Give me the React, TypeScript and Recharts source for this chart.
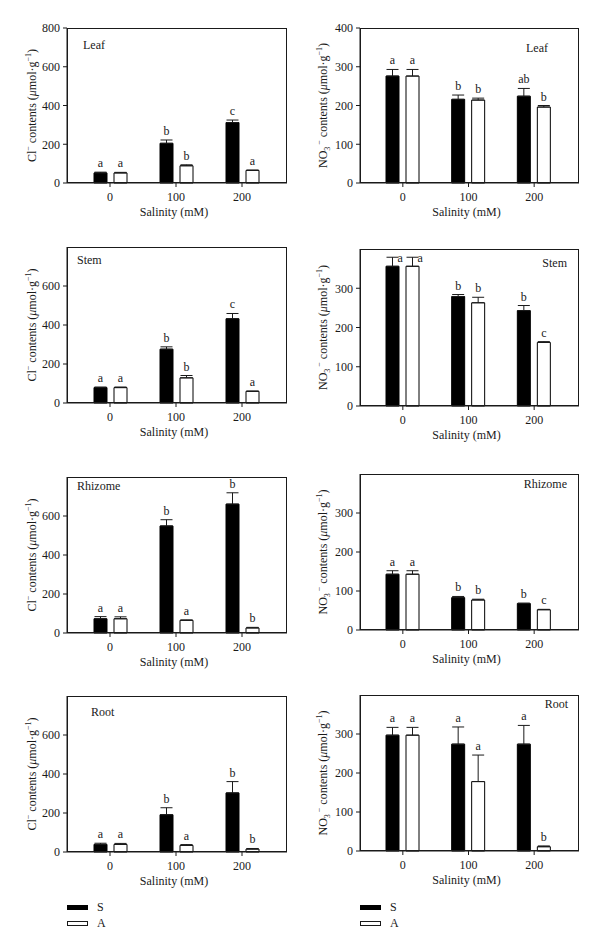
import { Bar, BarChart, ErrorBar, LabelList, XAxis, YAxis } from "recharts";

const salinity = ["0", "100", "200"];

const clTicksLeaf = [0, 200, 400, 600, 800];
const clTicks = [0, 200, 400, 600];
const noTicksLeaf = [0, 100, 200, 300, 400];
const noTicks = [0, 100, 200, 300];

// Cl- contents, left column
const clLeafS = [52, 205, 312];
const clLeafSErr = [4, 17, 13];
const clLeafA = [52, 89, 65];
const clLeafAErr = [3, 5, 2];
const clLeafSTag = ["a", "b", "c"];
const clLeafATag = ["a", "b", "a"];

const clStemS = [79, 276, 432];
const clStemSErr = [3, 12, 27];
const clStemA = [79, 129, 60];
const clStemAErr = [3, 12, 1];
const clStemSTag = ["a", "b", "c"];
const clStemATag = ["a", "b", "a"];

const clRhizS = [73, 549, 661];
const clRhizSErr = [11, 32, 58];
const clRhizA = [73, 65, 26];
const clRhizAErr = [10, 2, 3];
const clRhizSTag = ["a", "b", "b"];
const clRhizATag = ["a", "a", "b"];

const clRootS = [39, 191, 303];
const clRootSErr = [6, 36, 58];
const clRootA = [39, 34, 15];
const clRootAErr = [5, 4, 3];
const clRootSTag = ["a", "b", "b"];
const clRootATag = ["a", "a", "b"];

// NO3- contents, right column
const noLeafS = [276, 216, 224];
const noLeafSErr = [17, 11, 20];
const noLeafA = [276, 214, 196];
const noLeafAErr = [17, 5, 4];
const noLeafSTag = ["a", "b", "ab"];
const noLeafATag = ["a", "b", "b"];

const noStemS = [356, 279, 243];
const noStemSErr = [23, 5, 13];
const noStemA = [356, 263, 162];
const noStemAErr = [23, 14, 2];
const noStemSTag = ["a", "b", "b"];
const noStemATag = ["a", "b", "c"];

const noRhizS = [143, 83, 68];
const noRhizSErr = [9, 3, 1];
const noRhizA = [143, 77, 52];
const noRhizAErr = [9, 2, 1];
const noRhizSTag = ["a", "b", "b"];
const noRhizATag = ["a", "b", "c"];

const noRootS = [297, 274, 274];
const noRootSErr = [20, 44, 48];
const noRootA = [297, 178, 11];
const noRootAErr = [20, 68, 2];
const noRootSTag = ["a", "a", "a"];
const noRootATag = ["a", "a", "b"];

const seriesNames = ["S", "A"];

const ink = "#1a1a1a";
const font = "'Liberation Serif', 'DejaVu Serif', serif";

type Row = {
  c: string;
  s: number;
  a: number;
  sErr: number[];
  aErr: number[];
  sTag: string;
  aTag: string;
};

const makeRows = (
  s: number[],
  sErr: number[],
  a: number[],
  aErr: number[],
  sTag: string[],
  aTag: string[]
): Row[] =>
  salinity.map((c, i) => ({
    c,
    s: s[i],
    a: a[i],
    sErr: [0, sErr[i]],
    aErr: [0, aErr[i]],
    sTag: sTag[i],
    aTag: aTag[i],
  }));

const YLabel = ({ viewBox, kind, cx }: any) => {
  const x = viewBox.x + cx;
  const y = viewBox.y + viewBox.height / 2;
  return (
    <text
      x={x}
      y={y}
      dy={4}
      transform={`rotate(-90 ${x} ${y})`}
      textAnchor="middle"
      fontSize={12}
      fill={ink}
      fontFamily={font}
    >
      {kind === "cl" ? (
        <>
          <tspan>Cl</tspan>
          <tspan fontSize={8} dy={-5}>−</tspan>
          <tspan dy={5}> contents (</tspan>
        </>
      ) : (
        <>
          <tspan>NO</tspan>
          <tspan fontSize={8} dy={3}>3</tspan>
          <tspan fontSize={8} dy={-8}> −</tspan>
          <tspan dy={5}> contents (</tspan>
        </>
      )}
      <tspan fontStyle="italic">μ</tspan>
      <tspan>mol·g</tspan>
      <tspan fontSize={8} dy={-5}>−1</tspan>
      <tspan dy={5}>)</tspan>
    </text>
  );
};

const XLabel = ({ viewBox }: any) => (
  <text
    x={viewBox.x + viewBox.width / 2 - 3}
    y={viewBox.y + 33}
    textAnchor="middle"
    fontSize={12}
    fill={ink}
    fontFamily={font}
  >
    Salinity (mM)
  </text>
);

// letter above the error bar, or beside it when there is no room
const tagContent =
  (rows: Row[], key: "s" | "a", plotTop: number) => (p: any) => {
    const vb = p.viewBox ?? p;
    const x = vb.x ?? p.x;
    const y = vb.y ?? p.y;
    const w = vb.width ?? p.width;
    const h = vb.height ?? p.height;
    const row = rows[p.index];
    if (!row) return null;
    const v = row[key];
    const e = (key === "s" ? row.sErr : row.aErr)[1];
    const errTop = y - (v > 0 ? (e * h) / v : 0);
    const cx = x + w / 2;
    const common = { fontSize: 12, fill: ink, fontFamily: font };
    if (errTop - 13 < plotTop) {
      return (
        <text x={cx + 5} y={errTop + 5} textAnchor="start" {...common}>
          {p.value}
        </text>
      );
    }
    return (
      <text x={cx} y={errTop - 5} textAnchor="middle" {...common}>
        {p.value}
      </text>
    );
  };

type PanelProps = {
  left: number;
  plotTop: number;
  plotH: number;
  axisW: number;
  rightM: number;
  ticks: number[];
  yMax: number;
  rows: Row[];
  kind: "cl" | "no";
  labelCx: number;
};

const Panel = ({ left, plotTop, plotH, axisW, rightM, ticks, yMax, rows, kind, labelCx }: PanelProps) => {
  const top = 10;
  const xh = 45;
  const width = 300;
  return (
    <>
      <div style={{ position: "absolute", left, top: plotTop - top }}>
        <BarChart
          width={width}
          height={plotH + top + xh}
          data={rows}
          margin={{ top, right: rightM, left: 0, bottom: 0 }}
          barSize={13}
          barGap={7}
        >
          <XAxis
            dataKey="c"
            height={xh}
            padding={{ left: 10, right: 12 }}
            tickSize={4}
            tickMargin={5}
            stroke={ink}
            tick={{ fontSize: 12, fill: ink, fontFamily: font }}
            label={(lp: any) => <XLabel {...lp} />}
          />
          <YAxis
            width={axisW}
            domain={[0, yMax]}
            ticks={ticks}
            interval={0}
            tickSize={4}
            tickMargin={3}
            stroke={ink}
            tick={{ fontSize: 12, fill: ink, fontFamily: font }}
            label={(lp: any) => <YLabel {...lp} kind={kind} cx={labelCx} />}
          />
          <Bar dataKey="s" name={seriesNames[0]} fill="#000" stroke="#000" isAnimationActive={false}>
            <ErrorBar dataKey="sErr" width={6} stroke={ink} strokeWidth={1} direction="y" />
            <LabelList dataKey="sTag" content={tagContent(rows, "s", top)} />
          </Bar>
          <Bar dataKey="a" name={seriesNames[1]} fill="#fff" stroke="#000" strokeWidth={1} isAnimationActive={false}>
            <ErrorBar dataKey="aErr" width={6} stroke={ink} strokeWidth={1} direction="y" />
            <LabelList dataKey="aTag" content={tagContent(rows, "a", top)} />
          </Bar>
        </BarChart>
      </div>
      <div
        style={{
          position: "absolute",
          left: left + axisW,
          top: plotTop,
          width: width - axisW - rightM,
          height: plotH,
          border: `1px solid ${ink}`,
          boxSizing: "border-box",
          pointerEvents: "none",
        }}
      />
    </>
  );
};

const nameStyle = {
  position: "absolute" as const,
  fontFamily: font,
  fontSize: 12,
  lineHeight: "14px",
  color: ink,
  whiteSpace: "nowrap" as const,
};

const LegendBox = ({ left }: { left: number }) => (
  <>
    <div style={{ position: "absolute", left, top: 905, width: 21, height: 5, background: "#000" }} />
    <div style={{ ...nameStyle, left: left + 30, top: 900 }}>{seriesNames[0]}</div>
    <div
      style={{
        position: "absolute",
        left,
        top: 921,
        width: 21,
        height: 5,
        background: "#fff",
        border: `1px solid ${ink}`,
        boxSizing: "border-box",
      }}
    />
    <div style={{ ...nameStyle, left: left + 30, top: 916 }}>{seriesNames[1]}</div>
  </>
);

export default function App() {
  const L = { left: 0, axisW: 67, rightM: 13, kind: "cl" as const, labelCx: 32 };
  const R = { left: 300, axisW: 60, rightM: 21, kind: "no" as const, labelCx: 23 };
  return (
    <div
      style={{
        position: "absolute",
        left: 0,
        top: 0,
        width: 600,
        height: 952,
        background: "#fff",
        fontFamily: font,
      }}
    >
      <Panel {...L} plotTop={28} plotH={155} ticks={clTicksLeaf} yMax={800}
        rows={makeRows(clLeafS, clLeafSErr, clLeafA, clLeafAErr, clLeafSTag, clLeafATag)} />
      <Panel {...R} plotTop={28} plotH={155} ticks={noTicksLeaf} yMax={400}
        rows={makeRows(noLeafS, noLeafSErr, noLeafA, noLeafAErr, noLeafSTag, noLeafATag)} />

      <Panel {...L} plotTop={247} plotH={156} ticks={clTicks} yMax={800}
        rows={makeRows(clStemS, clStemSErr, clStemA, clStemAErr, clStemSTag, clStemATag)} />
      <Panel {...R} plotTop={249} plotH={157} ticks={noTicks} yMax={400}
        rows={makeRows(noStemS, noStemSErr, noStemA, noStemAErr, noStemSTag, noStemATag)} />

      <Panel {...L} plotTop={477} plotH={156} ticks={clTicks} yMax={800}
        rows={makeRows(clRhizS, clRhizSErr, clRhizA, clRhizAErr, clRhizSTag, clRhizATag)} />
      <Panel {...R} plotTop={474} plotH={156} ticks={noTicks} yMax={400}
        rows={makeRows(noRhizS, noRhizSErr, noRhizA, noRhizAErr, noRhizSTag, noRhizATag)} />

      <Panel {...L} plotTop={696} plotH={156} ticks={clTicks} yMax={800}
        rows={makeRows(clRootS, clRootSErr, clRootA, clRootAErr, clRootSTag, clRootATag)} />
      <Panel {...R} plotTop={695} plotH={156} ticks={noTicks} yMax={400}
        rows={makeRows(noRootS, noRootSErr, noRootA, noRootAErr, noRootSTag, noRootATag)} />

      <div style={{ ...nameStyle, left: 83, top: 38 }}>Leaf</div>
      <div style={{ ...nameStyle, right: 600 - 548, top: 41 }}>Leaf</div>
      <div style={{ ...nameStyle, left: 77, top: 253 }}>Stem</div>
      <div style={{ ...nameStyle, right: 600 - 567, top: 256 }}>Stem</div>
      <div style={{ ...nameStyle, left: 77, top: 479 }}>Rhizome</div>
      <div style={{ ...nameStyle, right: 600 - 567, top: 477 }}>Rhizome</div>
      <div style={{ ...nameStyle, left: 91, top: 705 }}>Root</div>
      <div style={{ ...nameStyle, right: 600 - 568, top: 697 }}>Root</div>

      <LegendBox left={67} />
      <LegendBox left={360} />
    </div>
  );
}
